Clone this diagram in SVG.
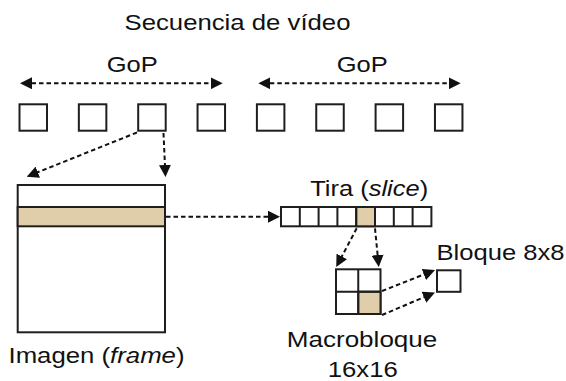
<svg xmlns="http://www.w3.org/2000/svg" width="566" height="381" viewBox="0 0 566 381">
  <style>
    .box { fill: #ffffff; stroke: #1e1e1e; stroke-width: 2; }
    .hl { fill: #e0cdaa; stroke: #1e1e1e; stroke-width: 2; }
    .cell { fill: none; stroke: #1e1e1e; stroke-width: 2; }
    .lbl { font-family: "Liberation Sans", Arial, sans-serif; font-size: 22.5px; fill: #111111; }
    .conn line { stroke: #111111; stroke-width: 2; stroke-dasharray: 4.5 3; fill: none; }
  </style>
  <defs>
    <marker id="head" markerUnits="userSpaceOnUse" markerWidth="12" markerHeight="12" refX="8" refY="6" orient="auto-start-reverse">
      <path d="M0,0 L12,6 L0,12 z" fill="#111111"/>
    </marker>
  </defs>

  <rect width="566" height="381" fill="#ffffff"/>

  <!-- title -->
  <g id="title">
    <text class="lbl" x="124.5" y="29.5" textLength="226" lengthAdjust="spacingAndGlyphs">Secuencia de vídeo</text>
  </g>

  <!-- groups of pictures -->
  <g id="gop1">
    <text class="lbl" x="106.8" y="72" textLength="51" lengthAdjust="spacingAndGlyphs">GoP</text>
  </g>
  <g id="gop2">
    <text class="lbl" x="336.8" y="72" textLength="51" lengthAdjust="spacingAndGlyphs">GoP</text>
  </g>

  <!-- frame sequence -->
  <g id="frames">
    <rect class="box" x="19.5" y="104.3" width="27.5" height="26.4"/>
    <rect class="box" x="78.85" y="104.3" width="27.5" height="26.4"/>
    <rect class="box" x="138.2" y="104.3" width="27.5" height="26.4"/>
    <rect class="box" x="197.55" y="104.3" width="27.5" height="26.4"/>
    <rect class="box" x="256.9" y="104.3" width="27.5" height="26.4"/>
    <rect class="box" x="316.25" y="104.3" width="27.5" height="26.4"/>
    <rect class="box" x="375.6" y="104.3" width="27.5" height="26.4"/>
    <rect class="box" x="434.95" y="104.3" width="27.5" height="26.4"/>
  </g>

  <!-- picture with one slice highlighted -->
  <g id="imagen">
    <rect class="box" x="17.7" y="185" width="147.3" height="147.3"/>
    <rect class="hl" x="17.7" y="207" width="147.3" height="19.3"/>
    <text class="lbl" x="8.5" y="363.3" textLength="176" lengthAdjust="spacingAndGlyphs">Imagen (<tspan font-style="italic">frame</tspan>)</text>
  </g>

  <!-- slice made of macroblocks -->
  <g id="tira">
    <rect class="box" x="281" y="207" width="150.4" height="19.3"/>
    <rect class="hl" x="356.2" y="207" width="18.8" height="19.3"/>
    <path class="cell" d="M299.8,207v19.3 M318.6,207v19.3 M337.4,207v19.3 M356.2,207v19.3 M375,207v19.3 M393.8,207v19.3 M412.6,207v19.3"/>
    <text class="lbl" x="310.2" y="196" textLength="118" lengthAdjust="spacingAndGlyphs">Tira (<tspan font-style="italic">slice</tspan>)</text>
  </g>

  <!-- macroblock split into four 8x8 blocks -->
  <g id="macrobloque">
    <rect class="box" x="336" y="269.3" width="44.5" height="44.7"/>
    <rect class="hl" x="358.25" y="291.65" width="22.25" height="22.35"/>
    <path class="cell" d="M358.25,269.3v44.7 M336,291.65h44.5"/>
    <text class="lbl" x="286.8" y="346.7" textLength="150.5" lengthAdjust="spacingAndGlyphs">Macrobloque</text>
    <text class="lbl" x="327.8" y="376.5" textLength="70" lengthAdjust="spacingAndGlyphs">16x16</text>
  </g>

  <!-- single 8x8 block -->
  <g id="bloque">
    <rect class="box" x="437" y="270.3" width="23.5" height="21.5"/>
    <text class="lbl" x="436.5" y="260" textLength="128" lengthAdjust="spacingAndGlyphs">Bloque 8x8</text>
  </g>

  <!-- dashed connectors -->
  <g id="connectors" class="conn">
    <line x1="24" y1="83.3" x2="218.7" y2="83.3" marker-start="url(#head)" marker-end="url(#head)"/>
    <line x1="262.3" y1="83.3" x2="456.7" y2="83.3" marker-start="url(#head)" marker-end="url(#head)"/>
    <line x1="137" y1="132.5" x2="30.4" y2="175.2" marker-end="url(#head)"/>
    <line x1="163.5" y1="133" x2="165.3" y2="173" marker-end="url(#head)"/>
    <line x1="166" y1="216.7" x2="276" y2="216.7" marker-end="url(#head)"/>
    <line x1="356.7" y1="228.3" x2="338.1" y2="263.5" marker-end="url(#head)"/>
    <line x1="375" y1="228.3" x2="378.4" y2="263" marker-end="url(#head)"/>
    <line x1="382" y1="291" x2="431.3" y2="271.5" marker-end="url(#head)"/>
    <line x1="382" y1="315" x2="431.3" y2="294.1" marker-end="url(#head)"/>
  </g>
</svg>
